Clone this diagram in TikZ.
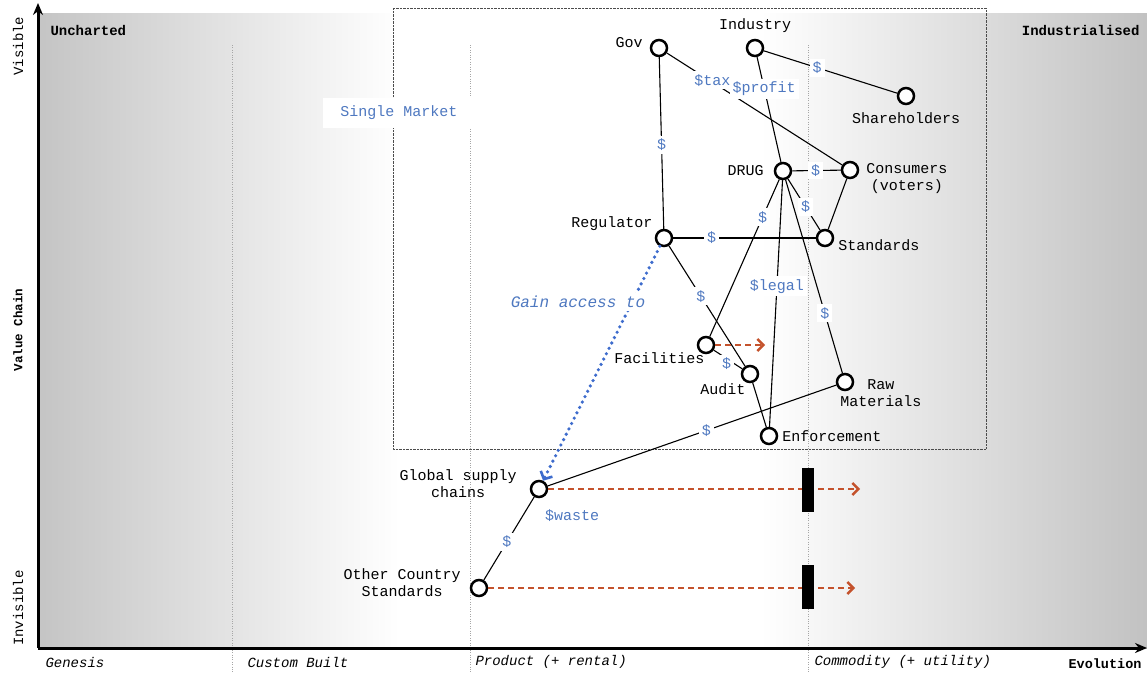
\documentclass[tikz,border=0pt]{standalone}
\usepackage{fontspec}
\setmainfont{Liberation Mono}
\usetikzlibrary{arrows.meta}

\definecolor{money}{RGB}{78,120,192}
\definecolor{access}{RGB}{62,108,205}
\definecolor{rust}{RGB}{196,82,44}

\tikzset{
  comp/.style={circle, draw, line width=2.5pt, fill=white, minimum size=16pt, inner sep=0pt},
  link/.style={line width=1.1pt},
  cost/.style={fill=white, text=money, inner sep=3pt, font=\fontsize{15}{17}\selectfont},
  move/.style={rust, line width=2.4pt, dash pattern=on 6pt off 4pt, -{Straight Barb[length=6pt,width=12pt,line width=2.4pt]}},
  inertia/.style={fill=black, minimum width=12pt, minimum height=44pt, inner sep=0pt},
  stage/.style={anchor=west, font=\fontsize{14}{16}\selectfont\itshape},
  every label/.style={font=\fontsize{15}{17}\selectfont, align=center, inner sep=1pt},
}

\begin{document}
\begin{tikzpicture}[x=1pt, y=-1pt, >={Stealth[length=12pt,width=10pt]}]
  \useasboundingbox (0,0) rectangle (1147,672);

  % shaded ends of the map
  \shade[left color=black!23, right color=white] (38,13) rectangle (400,648);
  \shade[left color=white, right color=black!24] (760,13) rectangle (1147,648);

  % stages of evolution
  \foreach \x in {232,470,808}
    \draw[black!35, dotted] (\x,45) -- (\x,672);

  % Single Market box
  \draw[black!70, densely dotted] (393,8) rectangle (986,449);
  \node[fill=white, text=money, inner xsep=17pt, inner ysep=8pt, font=\fontsize{15}{17}\selectfont] (market) at (399,113) {Single Market};

  % axes
  \coordinate (origin) at (38,648);
  \coordinate (top) at (38,3);
  \coordinate (right) at (1147,648);
  \draw[line width=3pt, ->] (origin) -- (top);
  \draw[line width=3pt, ->] (origin) -- (right);

  \node[rotate=90, font=\fontsize{14}{16}\selectfont] (visible) at (18,46) {Visible};
  \node[rotate=90, font=\fontsize{12.5}{15}\selectfont\bfseries] (chain) at (18,330) {Value Chain};
  \node[rotate=90, font=\fontsize{14}{16}\selectfont] (invisible) at (18,608) {Invisible};
  \node[anchor=west, font=\fontsize{14}{16}\selectfont\bfseries] (uncharted) at (47,30) {Uncharted};
  \node[anchor=east, font=\fontsize{14}{16}\selectfont\bfseries] (industrialised) at (1143,30) {Industrialised};
  \node[stage] (genesis) at (42,662) {Genesis};
  \node[stage] (custom) at (244,662) {Custom Built};
  \node[stage] (product) at (472,662) {Product (+ rental)};
  \node[stage] (commodity) at (811,662) {Commodity (+ utility)};
  \node[anchor=east, font=\fontsize{13.5}{16}\selectfont\bfseries] (evolution) at (1145,664) {Evolution};

  % components
  \node[comp, label={[yshift=5pt, label distance=6pt]left:Gov}] (gov) at (659,48) {};
  \node[comp, label={[label distance=5pt]above:Industry}] (industry) at (755,48) {};
  \node[comp, label={[label distance=6pt]below:Shareholders}] (share) at (906,96) {};
  \node[comp, label={[label distance=9pt]left:DRUG}] (drug) at (783,171) {};
  \node[comp, label={[yshift=-9pt, label distance=6pt]right:Consumers\\(voters)}] (consumers) at (850,170) {};
  \node[comp, label={[xshift=-4pt]above left:Regulator}] (reg) at (664,238) {};
  \node[comp, label={[yshift=-7pt, label distance=3pt]right:Standards}] (standards) at (825,238) {};
  \node[comp, label={[xshift=6pt]below left:Facilities}] (facilities) at (706,345) {};
  \node[comp, label={[xshift=3pt, yshift=-2pt]below left:Audit}] (audit) at (750,374) {};
  \node[comp, label={[xshift=-15pt, yshift=-11pt]right:Raw\\Materials}] (raw) at (845,382) {};
  \node[comp, label={[label distance=3pt]right:Enforcement}] (enforce) at (769,436) {};
  \node[comp, label={[yshift=5pt, label distance=12pt]left:Global supply\\chains}] (supply) at (539,489) {};
  \node[comp, label={[yshift=5pt, label distance=8pt]left:Other Country\\Standards}] (other) at (479,588) {};

  % flows of money
  \draw[link] (gov) -- node[cost, pos=0.51] {\$} (reg);
  \draw[link] (gov) -- node[cost, pos=0.26, yshift=2pt] {\$tax} (consumers);
  \draw[link] (industry) -- node[cost, pos=0.4] {\$} (share);
  \draw[link] (industry) -- node[cost, pos=0.3] {\$profit} (drug);
  \draw[link] (drug) -- node[cost, pos=0.48] {\$} (consumers);
  \draw[link] (consumers) -- (standards);
  \draw[link] (drug) -- node[cost, pos=0.55] {\$} (standards);
  \draw[link] (reg) -- node[cost, pos=0.27] {\$} (standards);
  \draw[link] (drug) -- node[cost, pos=0.24] {\$} (facilities);
  \draw[link] (drug) -- node[cost, pos=0.43] {\$legal} (enforce);
  \draw[link] (drug) -- node[cost, pos=0.69] {\$} (raw);
  \draw[link] (reg) -- node[cost, pos=0.42] {\$} (audit);
  \draw[link] (facilities) -- node[cost, pos=0.45, yshift=-5pt] {\$} (audit);
  \draw[link] (audit) -- (enforce);
  \draw[link] (raw) -- node[cost, pos=0.45] {\$} (supply);
  \draw[link] (supply) -- node[cost, pos=0.54] {\$} (other);
  \node[cost] (waste) at (572,516) {\$waste};

  % gaining access
  \draw[access, line width=3.6pt, line cap=round, dash pattern=on 0pt off 6pt,
        -{Straight Barb[length=6pt,width=13pt,line width=2.6pt]}] (reg) -- (supply);
  \node[fill=white, text=money, inner sep=3pt, font=\fontsize{16}{18}\selectfont\itshape] (gain) at (578,302) {Gain access to};

  % movement and inertia
  \coordinate (facEnd) at (765,345);
  \coordinate (supEnd) at (860,489);
  \coordinate (othEnd) at (855,588);
  \draw[move] (facilities) -- (facEnd);
  \draw[move] (supply) -- (supEnd);
  \draw[move] (other) -- (othEnd);
  \node[inertia] (bar1) at (808,490) {};
  \node[inertia] (bar2) at (808,587) {};
\end{tikzpicture}
\end{document}
